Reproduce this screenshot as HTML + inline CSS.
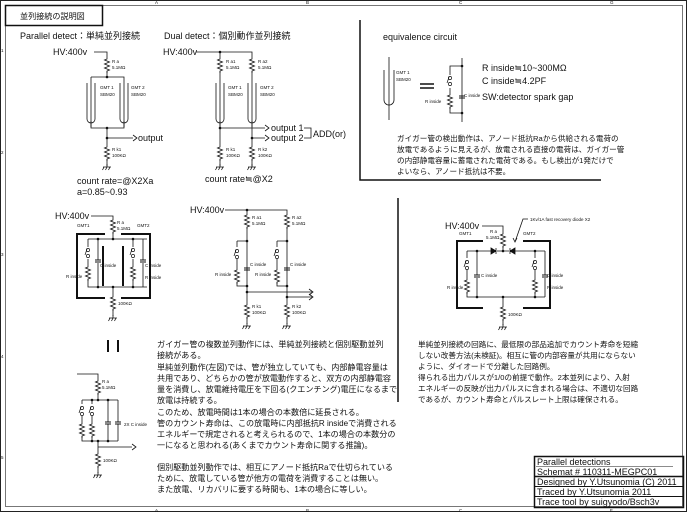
<!DOCTYPE html>
<html><head><meta charset="utf-8"><style>
html,body{margin:0;padding:0;background:#fff;}
svg{display:block;font-family:"Liberation Sans","Noto Sans CJK JP",sans-serif;}
.t{font-size:9px;fill:#111}
.j{font-size:8.1px;fill:#111}
.jr{font-size:7.6px;fill:#111}
.s{font-size:4.5px;fill:#111}
</style></head><body>
<svg width="688" height="513" viewBox="0 0 688 513" xmlns="http://www.w3.org/2000/svg">
<defs>
<g id="res"><path d="M0,0 v2 l-2.5,1 l5,2 l-5,2 l5,2 l-5,2 l5,2 l-2.5,1 v2" fill="none" stroke="#111" stroke-width="0.8"/></g>
<g id="gnd"><path d="M0,0 v3 M-4,3 h8 M-3,3 l-1.5,3 M0,3 l-1.5,3 M3,3 l-1.5,3" fill="none" stroke="#111" stroke-width="0.8"/></g>
<g id="tube"><path d="M-4,-6 v36 a4,4 0 0 0 8,0 v-36 M0,-6 v44" fill="none" stroke="#111" stroke-width="0.8"/></g>
<g id="sw"><circle cx="0" cy="0" r="1.6" fill="#fff" stroke="#111" stroke-width="0.7"/><circle cx="0" cy="6" r="1.6" fill="#fff" stroke="#111" stroke-width="0.7"/><path d="M-1,-1 l-2,6" stroke="#111" stroke-width="0.7"/></g>
<g id="cap"><path d="M-3,0 h6 M-3,2 h6" stroke="#111" stroke-width="0.9"/></g>
<g id="dot"><circle r="1.3" fill="#111"/></g>
</defs>
<g fill="none" stroke="#222">
<rect x="0.5" y="0.5" width="686" height="511" stroke-width="1"/>
<rect x="5.5" y="5.5" width="677" height="501" stroke-width="1" stroke="#777"/>
</g>
<g class="s"><text x="155" y="4">A</text><text x="306" y="4">B</text><text x="459" y="4">C</text><text x="610" y="4">G</text>
<text x="155" y="512">A</text><text x="306" y="512">B</text><text x="459" y="512">C</text><text x="610" y="512">F</text>
<text x="1" y="52">1</text><text x="1" y="154">2</text><text x="1" y="256">3</text><text x="1" y="358">4</text><text x="1" y="459">5</text></g>
<rect x="5.5" y="5.5" width="97" height="20" fill="none" stroke="#111" stroke-width="1.5"/>
<text x="20" y="19" class="j">並列接続の説明図</text>
<text x="20" y="39" class="t">Parallel detect：単純並列接続</text>
<text x="164" y="39" class="t">Dual detect：個別動作並列接続</text>

<g stroke="#111" stroke-width="0.8" fill="none">
<path d="M94,52 H107 V57 M107,71 V77 M91,77 H124 V83 M91,77 V83 M91,121 V128 H124 V121 M107,128 V145 M107,159 V166 M107,138 H133"/>
<path d="M133,135 l4,3 l-4,3"/>
<path d="M196,52 H252 V57 M220,52 V57 M220,71 V83 M252,71 V83 M220,121 V145 M252,121 V145 M220,159 V166 M252,159 V166 M220,128 H265 M252,138 H265 M304,128 H311 V138 H304"/>
<path d="M265,125 l4,3 l-4,3 M265,135 l4,3 l-4,3"/>
</g>
<use href="#res" x="107" y="57"/><use href="#dot" x="107" y="77"/><use href="#dot" x="107" y="128"/><use href="#dot" x="107" y="138"/>
<use href="#tube" x="91" y="89"/><use href="#tube" x="124" y="89"/>
<use href="#res" x="107" y="145"/><use href="#gnd" x="107" y="164"/>
<text x="53" y="55" class="t">HV:400v</text>
<text x="112" y="63" class="s">R a</text><text x="112" y="69" class="s">5.1MΩ</text>
<text x="100" y="89" class="s">GMT 1</text><text x="100" y="96" class="s">SBM20</text>
<text x="131" y="89" class="s">GMT 2</text><text x="131" y="96" class="s">SBM20</text>
<text x="138" y="141" class="t">output</text>
<text x="112" y="151" class="s">R k1</text><text x="112" y="157" class="s">100KΩ</text>
<text x="77" y="184" class="t">count rate=@X2Xa</text>
<text x="77" y="195" class="t">a=0.85~0.93</text>

<use href="#res" x="220" y="57"/><use href="#res" x="252" y="57"/><use href="#dot" x="220" y="52"/>
<use href="#tube" x="220" y="89"/><use href="#tube" x="252" y="89"/>
<use href="#dot" x="220" y="128"/><use href="#dot" x="252" y="138"/>
<use href="#res" x="220" y="145"/><use href="#res" x="252" y="145"/>
<use href="#gnd" x="220" y="164"/><use href="#gnd" x="252" y="164"/>
<text x="163" y="55" class="t">HV:400v</text>
<text x="226" y="63" class="s">R a1</text><text x="226" y="69" class="s">5.1MΩ</text>
<text x="258" y="63" class="s">R a2</text><text x="258" y="69" class="s">5.1MΩ</text>
<text x="228" y="89" class="s">GMT 1</text><text x="228" y="96" class="s">SBM20</text>
<text x="260" y="89" class="s">GMT 2</text><text x="260" y="96" class="s">SBM20</text>
<text x="271" y="131" class="t">output 1</text><text x="271" y="141" class="t">output 2</text>
<text x="313" y="137" class="t">ADD(or)</text>
<text x="226" y="151" class="s">R k1</text><text x="226" y="157" class="s">100KΩ</text>
<text x="258" y="151" class="s">R k2</text><text x="258" y="157" class="s">100KΩ</text>
<text x="205" y="182" class="t">count rate≒@X2</text>

<path d="M360,20 V180 H601" fill="none" stroke="#111" stroke-width="1.5"/>
<text x="383" y="40" class="t">equivalence circuit</text>
<g stroke="#111" stroke-width="0.8" fill="none">
<path d="M384,70 v30 a5,5 0 0 0 10,0 v-30 M389,57 v63"/>
<path d="M462,58 V122 M462,66 H450 V75 M450,88 V93 M450,107 V113 H462 M462,92 V96 M462,98 V102"/>
<path d="M420,84 h14 M420,88 h14" stroke-width="1.5"/>
</g>
<use href="#sw" x="450" y="78"/><use href="#res" x="450" y="93"/><use href="#cap" x="462" y="96"/>
<use href="#dot" x="462" y="66"/><use href="#dot" x="462" y="113"/>
<text x="396" y="74" class="s">GMT 1</text><text x="396" y="81" class="s">SBM20</text>
<text x="425" y="103" class="s">R inside</text><text x="464" y="97" class="s">C inside</text>
<text x="482" y="71" class="t">R inside≒10~300MΩ</text>
<text x="482" y="84" class="t">C inside≒4.2PF</text>
<text x="482" y="100" class="t">SW:detector spark gap</text>
<g class="jr">
<text x="397" y="141">ガイガー管の検出動作は、アノード抵抗Raから供給される電荷の</text>
<text x="397" y="152">放電であるように見えるが、放電される直接の電荷は、ガイガー管</text>
<text x="397" y="163">の内部静電容量に蓄電された電荷である。もし検出が1発だけで</text>
<text x="397" y="174">よいなら、アノード抵抗は不要。</text>
</g>

<g stroke="#111" stroke-width="0.8" fill="none">
<path d="M91,216 H113 V218 M113,232 V239 M88,239 H147 M88,239 V247 M88,259 V265 M88,279 V287 H147 M98,239 V260 M98,263 V287 M133,239 V247 M133,259 V265 M133,279 V287 M143,239 V260 M143,263 V287 M113,287 V295 M113,309 V316"/>
<path d="M105,234 H77 V298 H105 M121,234 H150 V298 H121" stroke-width="2"/>
<path d="M103,246 V286 M123,246 V286" stroke-width="2"/>
</g>
<use href="#res" x="113" y="218"/><use href="#sw" x="88" y="250"/><use href="#res" x="88" y="265"/><use href="#cap" x="98" y="260"/>
<use href="#sw" x="133" y="250"/><use href="#res" x="133" y="265"/><use href="#cap" x="143" y="260"/>
<use href="#dot" x="113" y="239"/><use href="#dot" x="113" y="287"/><use href="#dot" x="98" y="239"/><use href="#dot" x="98" y="287"/><use href="#dot" x="133" y="239"/><use href="#dot" x="133" y="287"/>
<use href="#res" x="113" y="295"/><use href="#gnd" x="113" y="315"/>
<text x="55" y="219" class="t">HV:400v</text>
<text x="77" y="227" class="s">GMT1</text><text x="137" y="227" class="s">GMT2</text>
<text x="117" y="224" class="s">R a</text><text x="117" y="230" class="s">5.1MΩ</text>
<text x="66" y="278" class="s">R inside</text><text x="100" y="267" class="s">C inside</text>
<text x="145" y="267" class="s">C inside</text><text x="145" y="279" class="s">R inside</text>
<text x="118" y="305" class="s">100KΩ</text>

<g stroke="#111" stroke-width="0.8" fill="none">
<path d="M225,210 H287 V213 M247,210 V213 M247,227 V286 M287,227 V286 M237,241 H247 M237,241 V247 M237,259 V268 M237,282 V286 H247 M277,241 H287 M277,241 V247 M277,259 V268 M277,282 V286 H287 M247,292 H312 M287,297 H312 M247,286 V303 M287,286 V303 M247,317 V324 M287,317 V324"/>
<path d="M309,289 l4,3 l-4,3 M309,294 l4,3 l-4,3"/>
</g>
<use href="#res" x="247" y="213"/><use href="#res" x="287" y="213"/>
<use href="#sw" x="237" y="251"/><use href="#res" x="237" y="268"/><use href="#cap" x="247" y="268"/>
<use href="#sw" x="277" y="251"/><use href="#res" x="277" y="268"/><use href="#cap" x="287" y="268"/>
<use href="#dot" x="247" y="210"/><use href="#dot" x="247" y="241"/><use href="#dot" x="287" y="241"/><use href="#dot" x="247" y="286"/><use href="#dot" x="287" y="286"/><use href="#dot" x="247" y="292"/><use href="#dot" x="287" y="297"/>
<use href="#res" x="247" y="303"/><use href="#res" x="287" y="303"/>
<use href="#gnd" x="247" y="323"/><use href="#gnd" x="287" y="323"/>
<text x="190" y="213" class="t">HV:400v</text>
<text x="252" y="219" class="s">R a1</text><text x="252" y="225" class="s">5.1MΩ</text>
<text x="292" y="219" class="s">R a2</text><text x="292" y="225" class="s">5.1MΩ</text>
<text x="215" y="276" class="s">R inside</text><text x="250" y="266" class="s">C inside</text>
<text x="255" y="276" class="s">R inside</text><text x="290" y="266" class="s">C inside</text>
<text x="252" y="308" class="s">R k1</text><text x="252" y="314" class="s">100KΩ</text>
<text x="292" y="308" class="s">R k2</text><text x="292" y="314" class="s">100KΩ</text>

<path d="M108,340 V352 M118,340 V352" stroke="#111" stroke-width="2"/>

<g stroke="#111" stroke-width="0.8" fill="none">
<path d="M77,374 H98 V379 M98,393 V400 M82,400 H118 M82,400 V404 M82,416 V422 M82,436 V441 H118 M92,400 V404 M92,416 V422 M92,436 V441 M108,400 V422 M108,424 V441 M118,400 V422 M118,424 V441 M98,441 V452 M98,466 V473 M98,447 H132"/>
<path d="M132,444 l4,3 l-4,3"/>
</g>
<use href="#res" x="98" y="379"/>
<use href="#sw" x="82" y="408"/><use href="#res" x="82" y="422"/><use href="#sw" x="92" y="408"/><use href="#res" x="92" y="422"/>
<use href="#cap" x="108" y="422"/><use href="#cap" x="118" y="422"/>
<use href="#dot" x="98" y="400"/><use href="#dot" x="92" y="400"/><use href="#dot" x="108" y="400"/><use href="#dot" x="98" y="441"/><use href="#dot" x="92" y="441"/><use href="#dot" x="108" y="441"/>
<use href="#res" x="98" y="452"/><use href="#gnd" x="98" y="472"/>
<text x="102" y="383" class="s">R a</text><text x="102" y="389" class="s">5.1MΩ</text>
<text x="124" y="426" class="s">2X C inside</text>
<text x="103" y="462" class="s">100KΩ</text>

<g class="j">
<text x="157" y="347">ガイガー管の複数並列動作には、単純並列接続と個別駆動並列</text>
<text x="157" y="358">接続がある。</text>
<text x="157" y="370">単純並列動作(左図)では、管が独立していても、内部静電容量は</text>
<text x="157" y="381">共用であり、どちらかの管が放電動作すると、双方の内部静電容</text>
<text x="157" y="392">量を消費し、放電維持電圧を下回る(クエンチング)電圧になるまで</text>
<text x="157" y="403">放電は持続する。</text>
<text x="157" y="415">このため、放電時間は1本の場合の本数倍に延長される。</text>
<text x="157" y="426">管のカウント寿命は、この放電時に内部抵抗R insideで消費される</text>
<text x="157" y="437">エネルギーで規定されると考えられるので、1本の場合の本数分の</text>
<text x="157" y="448">一になると思われる(あくまでカウント寿命に関する推論)。</text>
<text x="157" y="470">個別駆動並列動作では、相互にアノード抵抗Raで仕切られている</text>
<text x="157" y="481">ために、放電している管が他方の電荷を消費することは無い。</text>
<text x="157" y="492">また放電、リカバリに要する時間も、1本の場合に等しい。</text>
</g>

<path d="M398,198 V402" stroke="#111" stroke-width="1.5"/>

<g stroke="#111" stroke-width="0.8" fill="none">
<path d="M482,226 H503 V232 M503,246 V251 M467,251 H491 M497,251 H509 M515,251 H545 M467,251 V258 M467,270 V278 M467,292 V297 H545 M477,251 V275 M477,278 V297 M535,251 V258 M535,270 V278 M535,292 V297 M545,251 V275 M545,278 V297 M503,297 V305 M503,319 V325"/>
<path d="M491,248 v6 l5,-3 z M496,248 v6 M515,248 v6 l-5,-3 z M510,248 v6" fill="#111"/>
<path d="M528,219 H523 L515,242 M513,238 l2,4 l2,-4"/>
<path d="M483,241 H457 V308 H483 M523,241 H550 V308 H523" stroke-width="2"/>
</g>
<use href="#res" x="503" y="232"/>
<use href="#sw" x="467" y="262"/><use href="#res" x="467" y="278"/><use href="#cap" x="477" y="275"/>
<use href="#sw" x="535" y="262"/><use href="#res" x="535" y="278"/><use href="#cap" x="545" y="275"/>
<use href="#dot" x="503" y="251"/><use href="#dot" x="477" y="251"/><use href="#dot" x="535" y="251"/><use href="#dot" x="503" y="297"/><use href="#dot" x="477" y="297"/><use href="#dot" x="535" y="297"/>
<use href="#res" x="503" y="305"/><use href="#gnd" x="503" y="324"/>
<text x="445" y="229" class="t">HV:400v</text>
<text x="459" y="235" class="s">GMT1</text><text x="523" y="235" class="s">GMT2</text>
<text x="490" y="233" class="s">R a</text><text x="486" y="239" class="s">5.1MΩ</text>
<text x="530" y="221" class="s">1Kv/1A fast recovery diode X2</text>
<text x="447" y="289" class="s">R inside</text><text x="481" y="277" class="s">C inside</text>
<text x="547" y="277" class="s">C inside</text><text x="547" y="289" class="s">R inside</text>
<text x="508" y="316" class="s">100KΩ</text>

<g class="jr">
<text x="418" y="347">単純並列接続の回路に、最低限の部品追加でカウント寿命を短縮</text>
<text x="418" y="358">しない改善方法(未検証)。相互に管の内部容量が共用にならない</text>
<text x="418" y="369">ように、ダイオードで分離した回路例。</text>
<text x="418" y="380">得られる出力パルスが1/0の前提で動作。2本並列により、入射</text>
<text x="418" y="391">エネルギーの反映が出力パルスに含まれる場合は、不適切な回路</text>
<text x="418" y="402">であるが、カウント寿命とパルスレート上限は確保される。</text>
</g>

<g fill="none" stroke="#111">
<rect x="534.5" y="456.5" width="149" height="51" stroke-width="1.5"/>
<path d="M536,466.5 H673" stroke-width="0.8" stroke="#666"/>
<path d="M534,476.5 H684" stroke-width="1.5"/>
<path d="M534,486.5 H684 M534,496.5 H684" stroke-width="1"/>
</g>
<g class="t">
<text x="537" y="465">Parallel detections</text>
<text x="537" y="475">Schemat # 110311-MEGPC01</text>
<text x="537" y="485">Designed by Y.Utsunomia  (C) 2011</text>
<text x="537" y="495">Traced by    Y.Utsunomia       2011</text>
<text x="537" y="505">Trace tool by suigyodo/Bsch3v</text>
</g>
</svg>
</body></html>
